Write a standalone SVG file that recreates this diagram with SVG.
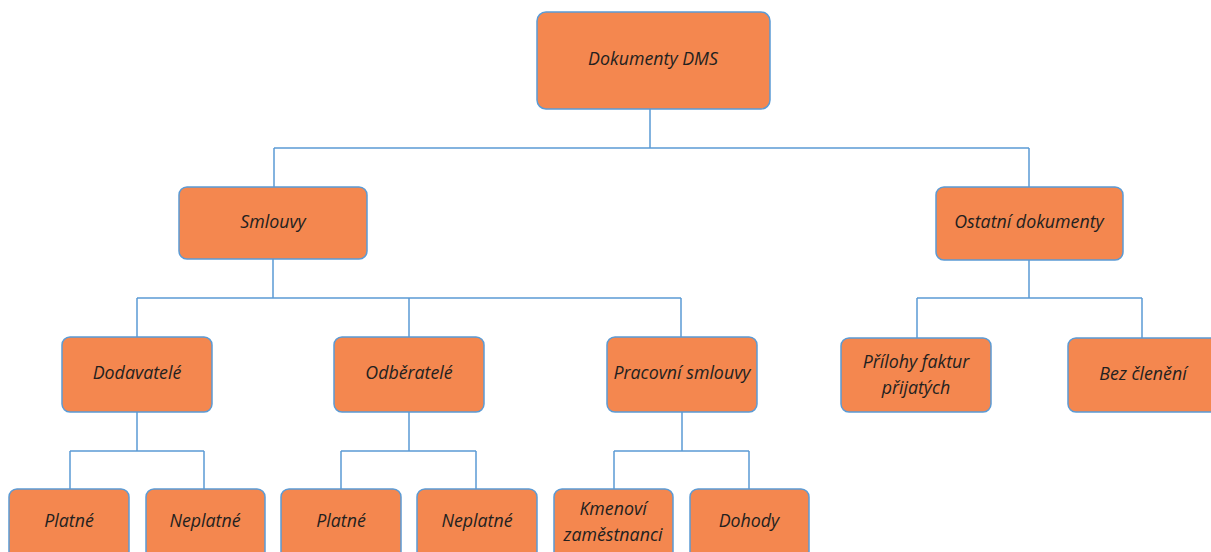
<svg xmlns="http://www.w3.org/2000/svg" width="1211" height="552" viewBox="0 0 1211 552">
<style>
.box{fill:#F4874F;stroke:#5B9BD5;stroke-width:1.5}
.t{font-family:"Open Sans","Noto Sans",sans-serif;font-style:italic;font-size:17.8px;fill:#231f20;text-anchor:middle;dominant-baseline:central}
.c{fill:none;stroke:#5B9BD5;stroke-width:1.5}
</style>
<rect width="1211" height="552" fill="#ffffff"/>
<g id="connectors">
<path class="c" d="M650 109V148M274 148H1029M274 148V187M1029 148V187"/>
<path class="c" d="M273 258V298M137 298H681M137 298V337M409 298V337M681 298V337"/>
<path class="c" d="M1029 260V298M917 298H1142M917 298V338M1142 298V338"/>
<path class="c" d="M137 412V451M70 451H204M70 451V489M204 451V489"/>
<path class="c" d="M409 412V451M341 451H476M341 451V489M476 451V489"/>
<path class="c" d="M682 412V451M614 451H749M614 451V489M749 451V489"/>
</g>
<g id="n-root"><rect class="box" x="537" y="12" width="233" height="97" rx="9"/><text class="t" x="653" y="58">Dokumenty DMS</text></g>
<g id="n-smlouvy"><rect class="box" x="179" y="187" width="188" height="72" rx="8"/><text class="t" x="273" y="221">Smlouvy</text></g>
<g id="n-ostatni"><rect class="box" x="936" y="187" width="187" height="73" rx="8"/><text class="t" x="1029" y="221">Ostatní dokumenty</text></g>
<g id="n-dodavatele"><rect class="box" x="62" y="337" width="150" height="75" rx="8"/><text class="t" x="137" y="372">Dodavatelé</text></g>
<g id="n-odberatele"><rect class="box" x="334" y="337" width="150" height="75" rx="8"/><text class="t" x="409" y="372">Odběratelé</text></g>
<g id="n-pracovni"><rect class="box" x="607" y="337" width="150" height="75" rx="8"/><text class="t" x="682" y="372">Pracovní smlouvy</text></g>
<g id="n-prilohy"><rect class="box" x="841" y="338" width="150" height="74" rx="8"/><text class="t" x="916" y="361">Přílohy faktur</text><text class="t" x="916" y="387">přijatých</text></g>
<g id="n-bez"><rect class="box" x="1068" y="338" width="150" height="74" rx="8"/><text class="t" x="1143" y="373">Bez členění</text></g>
<g id="n-platne1"><rect class="box" x="9" y="489" width="120" height="72" rx="8"/><text class="t" x="69" y="520">Platné</text></g>
<g id="n-neplatne1"><rect class="box" x="146" y="489" width="119" height="72" rx="8"/><text class="t" x="205" y="520">Neplatné</text></g>
<g id="n-platne2"><rect class="box" x="281" y="489" width="120" height="72" rx="8"/><text class="t" x="341" y="520">Platné</text></g>
<g id="n-neplatne2"><rect class="box" x="417" y="489" width="120" height="72" rx="8"/><text class="t" x="477" y="520">Neplatné</text></g>
<g id="n-kmenovi"><rect class="box" x="554" y="489" width="119" height="72" rx="8"/><text class="t" x="613" y="508">Kmenoví</text><text class="t" x="613" y="534">zaměstnanci</text></g>
<g id="n-dohody"><rect class="box" x="690" y="489" width="119" height="72" rx="8"/><text class="t" x="749" y="520">Dohody</text></g>
</svg>
